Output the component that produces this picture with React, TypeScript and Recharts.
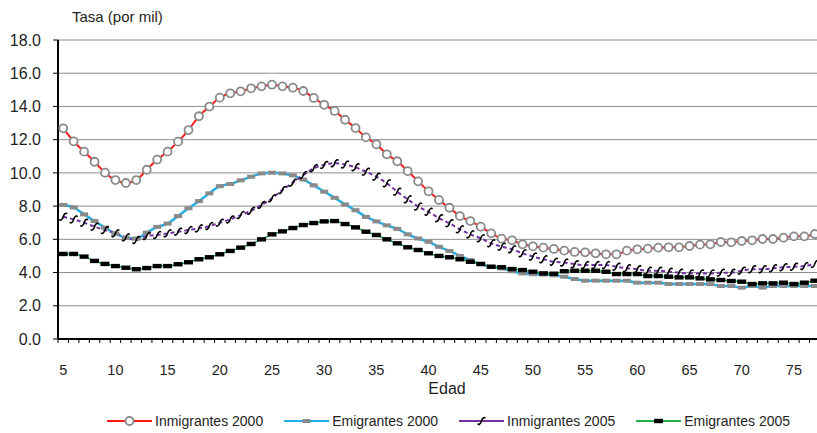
import React from "react"
import { CartesianGrid, Legend, Line, LineChart, XAxis, YAxis } from "recharts"

// edades 5..77
const ages = Array.from({ length: 73 }, (_, i) => i + 5)

const inmigrantes2000 = [
  12.68, 11.9, 11.28, 10.67, 10.01, 9.57, 9.39, 9.57, 10.19, 10.8, 11.28, 11.88, 12.58, 13.41, 13.99,
  14.53, 14.79, 14.91, 15.09, 15.21, 15.31, 15.21, 15.13, 14.93, 14.51, 14.1, 13.73, 13.2, 12.7, 12.14,
  11.72, 11.12, 10.7, 10.11, 9.49, 8.89, 8.37, 7.9, 7.4, 7.1, 6.76, 6.36, 6.04, 5.94, 5.7, 5.58, 5.5,
  5.42, 5.32, 5.24, 5.22, 5.16, 5.1, 5.1, 5.32, 5.4, 5.44, 5.5, 5.52, 5.52, 5.6, 5.68, 5.7, 5.84, 5.82,
  5.9, 5.94, 6.02, 6.02, 6.1, 6.18, 6.18, 6.32,
]

const emigrantes2000 = [
  8.07, 7.92, 7.5, 7.1, 6.7, 6.35, 6.1, 6.05, 6.4, 6.75, 6.95, 7.4, 7.87, 8.3, 8.77, 9.2, 9.33, 9.55,
  9.77, 9.97, 10.01, 9.97, 9.85, 9.6, 9.25, 8.87, 8.5, 8.1, 7.75, 7.35, 7.08, 6.84, 6.63, 6.3, 6.05, 5.85,
  5.55, 5.3, 5.0, 4.75, 4.5, 4.35, 4.25, 4.08, 3.95, 3.9, 3.88, 3.83, 3.75, 3.61, 3.51, 3.51, 3.51, 3.51,
  3.51, 3.39, 3.39, 3.39, 3.31, 3.31, 3.31, 3.31, 3.3, 3.19, 3.19, 3.09, 3.19, 3.09, 3.19, 3.19, 3.19,
  3.19, 3.19,
]

const inmigrantes2005 = [
  7.36, 7.2, 7.0, 6.76, 6.56, 6.36, 6.12, 5.96, 6.2, 6.26, 6.36, 6.46, 6.56, 6.66, 6.8, 7.0, 7.2, 7.46,
  7.72, 8.07, 8.47, 8.97, 9.41, 9.87, 10.28, 10.48, 10.58, 10.5, 10.34, 10.07, 9.77, 9.37, 8.87, 8.41,
  7.97, 7.66, 7.27, 6.97, 6.6, 6.3, 6.06, 5.76, 5.56, 5.4, 5.16, 4.96, 4.8, 4.65, 4.6, 4.5, 4.45, 4.45,
  4.45, 4.35, 4.26, 4.2, 4.11, 4.11, 4.05, 3.99, 3.95, 3.95, 3.95, 3.99, 3.99, 4.11, 4.2, 4.2, 4.26, 4.32,
  4.35, 4.39, 4.52,
]

const emigrantes2005 = [
  5.12, 5.12, 4.96, 4.7, 4.52, 4.39, 4.29, 4.2, 4.27, 4.39, 4.39, 4.5, 4.62, 4.8, 4.92, 5.1, 5.3, 5.5,
  5.72, 6.0, 6.3, 6.48, 6.68, 6.86, 6.98, 7.08, 7.1, 6.92, 6.72, 6.46, 6.26, 6.0, 5.76, 5.52, 5.36, 5.16,
  5.0, 4.92, 4.8, 4.65, 4.52, 4.35, 4.32, 4.21, 4.15, 4.05, 3.95, 3.93, 4.08, 4.11, 4.11, 4.11, 4.05,
  3.91, 3.91, 3.91, 3.79, 3.79, 3.75, 3.71, 3.71, 3.65, 3.59, 3.55, 3.49, 3.45, 3.31, 3.35, 3.35, 3.39,
  3.31, 3.39, 3.51,
]

const yTicks = [0, 2, 4, 6, 8, 10, 12, 14, 16, 18]

const data = ages.map((edad, i) => ({
  edad,
  inm2000: inmigrantes2000[i],
  emi2000: emigrantes2000[i],
  inm2005: inmigrantes2005[i],
  emi2005: emigrantes2005[i],
}))

const FONT = "'Liberation Sans', Arial, sans-serif"
const TEXT = "#1e1e1e"
const CHART_W = 832
const CHART_H = 433
const Y_W = 58
const RIGHT = 12
const BAND = (CHART_W - Y_W - RIGHT) / ages.length

const CircleDot = (p: any) => {
  if (p.cx == null || p.cy == null) return <g key={p.index} />
  return <circle key={p.index} cx={p.cx} cy={p.cy} r={4} fill="#fff" stroke="#8a8a8a" strokeWidth={1.8} />
}

const GrayDash = (p: any) => {
  if (p.cx == null || p.cy == null) return <g key={p.index} />
  return <rect key={p.index} x={p.cx - 4} y={p.cy - 2} width={8} height={4} fill="#8a8a8a" />
}

const BlackDash = (p: any) => {
  if (p.cx == null || p.cy == null) return <g key={p.index} />
  return <rect key={p.index} x={p.cx - 4.5} y={p.cy - 2.2} width={9} height={4.4} fill="#000" />
}

// marcador tipo "ʃ" inclinado
const squiggle = (cx: number, cy: number) =>
  `M ${cx - 3.5} ${cy + 2.5} C ${cx - 3.5} ${cy + 4.5}, ${cx - 0.8} ${cy + 3.2}, ${cx} ${cy} C ${cx + 0.8} ${cy - 3.2}, ${cx + 3.5} ${cy - 4.5}, ${cx + 3.5} ${cy - 2.5}`

const SquiggleDot = (p: any) => {
  if (p.cx == null || p.cy == null) return <g key={p.index} />
  return <path key={p.index} d={squiggle(p.cx, p.cy)} fill="none" stroke="#000" strokeWidth={1.6} />
}

const XTick = (props: any) => {
  const { x, y, payload } = props
  const edge = x - BAND / 2
  return (
    <g>
      <line x1={edge} x2={edge} y1={y} y2={y + 4} stroke="#000" strokeWidth={1} />
      {payload.value % 5 === 0 && (
        <text x={x} y={y + 36} textAnchor="middle" fontSize={14.5} fontFamily={FONT} fill={TEXT}>
          {payload.value}
        </text>
      )}
    </g>
  )
}

const legendItems = [
  { label: "Inmigrantes 2000", color: "#ff1a1a", marker: "circle" },
  { label: "Emigrantes 2000", color: "#21b1e6", marker: "gray" },
  { label: "Inmigrantes 2005", color: "#7030a0", marker: "squiggle" },
  { label: "Emigrantes 2005", color: "#22b14c", marker: "black" },
]

function LegendIcon({ color, marker }: { color: string; marker: string }) {
  return (
    <svg width={45} height={14} style={{ display: "block" }}>
      <line x1={0} x2={45} y1={7} y2={7} stroke={color} strokeWidth={2} />
      {marker === "circle" && <circle cx={22.5} cy={7} r={4} fill="#fff" stroke="#8a8a8a" strokeWidth={1.8} />}
      {marker === "gray" && <rect x={18.5} y={5} width={8} height={4} fill="#8a8a8a" />}
      {marker === "black" && <rect x={18} y={4.8} width={9} height={4.4} fill="#000" />}
      {marker === "squiggle" && <path d={squiggle(22.5, 7)} fill="none" stroke="#000" strokeWidth={1.6} />}
    </svg>
  )
}

const renderLegend = () => (
  <div
    style={{
      display: "flex",
      alignItems: "center",
      height: 24,
      paddingLeft: 107,
      fontFamily: FONT,
      fontSize: 14,
      color: TEXT,
    }}
  >
    {legendItems.map((it) => (
      <div key={it.label} style={{ display: "flex", alignItems: "center", marginRight: 21 }}>
        <LegendIcon color={it.color} marker={it.marker} />
        <span style={{ marginLeft: 3, whiteSpace: "nowrap" }}>{it.label}</span>
      </div>
    ))}
  </div>
)

export default function App() {
  return (
    <div
      style={{
        position: "fixed",
        left: 0,
        top: 0,
        width: 817,
        height: 433,
        overflow: "hidden",
        background: "#fff",
      }}
    >
      <LineChart
        width={CHART_W}
        height={CHART_H}
        data={data}
        margin={{ top: 40, right: RIGHT, bottom: 0, left: 0 }}
      >
        <CartesianGrid vertical={false} stroke="#8c8c8c" strokeWidth={1} />
        <XAxis
          dataKey="edad"
          scale="band"
          interval={0}
          height={70}
          tickLine={false}
          tickSize={0}
          tickMargin={0}
          axisLine={{ stroke: "#000", strokeWidth: 2 }}
          tick={<XTick />}
          label={{
            content: (p: any) => {
              const vb = p.viewBox || { x: Y_W, y: 339, width: CHART_W - Y_W - RIGHT, height: 70 }
              return (
                <text
                  x={vb.x + vb.width / 2 + 8}
                  y={vb.y + 55}
                  textAnchor="middle"
                  fontSize={16}
                  fontFamily={FONT}
                  fill={TEXT}
                >
                  Edad
                </text>
              )
            },
          }}
        />
        <YAxis
          width={Y_W}
          domain={[0, 18]}
          ticks={yTicks}
          interval={0}
          tickSize={5}
          tickMargin={12}
          tickFormatter={(v) => Number(v).toFixed(1)}
          tick={{ fontSize: 16, fontFamily: FONT, fill: TEXT }}
          tickLine={{ stroke: "#000" }}
          axisLine={{ stroke: "#000", strokeWidth: 2 }}
          label={{
            content: (p: any) => {
              const vb = p.viewBox || { x: 0, y: 40, width: Y_W, height: 299 }
              return (
                <text x={vb.x + vb.width + 14} y={vb.y - 18} fontSize={15} fontFamily={FONT} fill={TEXT}>
                  Tasa (por mil)
                </text>
              )
            },
          }}
        />
        <Legend verticalAlign="bottom" height={24} content={renderLegend} />
        <Line
          dataKey="inm2000"
          type="monotone"
          stroke="#ff1a1a"
          strokeWidth={2}
          dot={CircleDot}
          activeDot={false}
          isAnimationActive={false}
        />
        <Line
          dataKey="emi2000"
          type="monotone"
          stroke="#21b1e6"
          strokeWidth={2.5}
          dot={GrayDash}
          activeDot={false}
          isAnimationActive={false}
        />
        <Line
          dataKey="inm2005"
          type="monotone"
          stroke="#7030a0"
          strokeWidth={2}
          strokeDasharray="4 3"
          dot={SquiggleDot}
          activeDot={false}
          isAnimationActive={false}
        />
        <Line
          dataKey="emi2005"
          type="monotone"
          stroke="#22b14c"
          strokeWidth={1.5}
          dot={BlackDash}
          activeDot={false}
          isAnimationActive={false}
        />
      </LineChart>
    </div>
  )
}
